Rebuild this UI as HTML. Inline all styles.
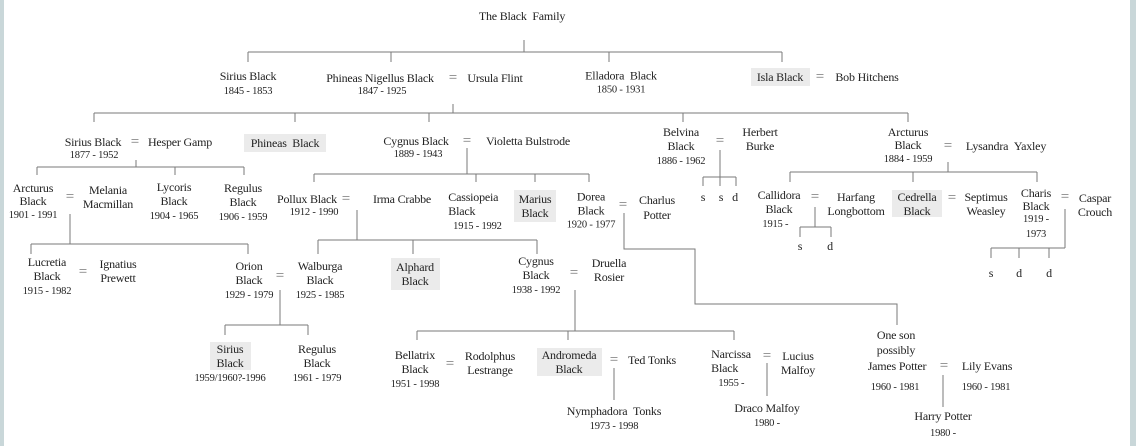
<!DOCTYPE html>
<html><head><meta charset="utf-8"><style>
html,body{margin:0;padding:0}
body{width:1136px;height:446px;position:relative;background:#fff;overflow:hidden;font-family:"Liberation Serif",serif;color:#222}
.bl{position:absolute;left:0;top:0;width:4px;height:446px;background:#c9d7d9}
.br{position:absolute;right:0;top:0;width:6px;height:446px;background:#c9d7d9}
.n{position:absolute;transform:translate(-50%,-50%);text-align:center;white-space:nowrap;line-height:14px;font-size:12px;letter-spacing:-0.2px}
.d{font-size:10.5px;letter-spacing:-0.2px}
.e{position:absolute;transform:translate(-50%,-50%);font-size:15px;color:#777;line-height:14px}
.bx{position:absolute;background:#ebebeb}
svg{position:absolute;left:0;top:0}
</style></head><body>
<div class="bl"></div><div class="br"></div>
<div class="bx" style="left:751px;top:68px;width:59px;height:18px"></div>
<div class="bx" style="left:244px;top:134px;width:82px;height:18px"></div>
<div class="bx" style="left:514px;top:190px;width:42px;height:32px"></div>
<div class="bx" style="left:892px;top:190px;width:50px;height:27px"></div>
<div class="bx" style="left:391px;top:258px;width:49px;height:32px"></div>
<div class="bx" style="left:210px;top:342px;width:41px;height:28px"></div>
<div class="bx" style="left:537px;top:348px;width:65px;height:28px"></div>
<svg width="1136" height="446" fill="none" stroke="#7a7a7a" stroke-width="1">
<path d="M524 40V52M248 52H782M248 52V62M391 52V62M609 52V62M782 52V62"/>
<path d="M453 104V113M94 113H908M94 113V122M295 113V122M429 113V122M683 113V122M908 113V122"/>
<path d="M136 160V167M37 167H244M37 167V175M175 167V175M244 167V175"/>
<path d="M467 148V174M314 174H589M314 174V182M476 174V182M535 174V182M589 174V182"/>
<path d="M720 150V177M703 177H736M703 177V186M720 177V186M736 177V186"/>
<path d="M948 162V172M790 172H1037M790 172V182M913 172V182M1037 172V182"/>
<path d="M815 207V227M800 227H831M800 227V237M831 227V237"/>
<path d="M1065 209V248M991 248H1065M991 248V258M1019 248V258M1049 248V258"/>
<path d="M624 213V249H695V304H897V325"/>
<path d="M70 214V244M31 244H248M31 244V254M248 244V254"/>
<path d="M357 210V240M318 240H537M318 240V254M413 240V254M537 240V254"/>
<path d="M280 290V325M225 325H308M225 325V335M308 325V335"/>
<path d="M575 290V331M417 331H734M417 331V340M568 331V340M734 331V340"/>
<path d="M614 368V400M767 363V396M943 375V407"/>
</svg>
<div class="n" style="left:522px;top:16px">The Black &nbsp;Family</div>
<div class="n" style="left:248px;top:84px">Sirius Black<br><span class="d">1845 - 1853</span></div>
<div class="n" style="left:380px;top:78px">Phineas Nigellus Black</div><div class="e" style="left:453px;top:78px">=</div><div class="n" style="left:495px;top:78px">Ursula Flint</div><div class="n d" style="left:382px;top:92px">1847 - 1925</div>
<div class="n" style="left:621px;top:83px;line-height:13px">Elladora &nbsp;Black<br><span class="d">1850 - 1931</span></div>
<div class="n" style="left:780px;top:77px">Isla Black</div><div class="e" style="left:820px;top:77px">=</div><div class="n" style="left:867px;top:77px">Bob Hitchens</div>
<div class="n" style="left:93px;top:142px">Sirius Black</div><div class="e" style="left:135px;top:142px">=</div><div class="n" style="left:180px;top:142px">Hesper Gamp</div><div class="n d" style="left:94px;top:156px">1877 - 1952</div>
<div class="n" style="left:285px;top:143px">Phineas &nbsp;Black</div>
<div class="n" style="left:416px;top:141px">Cygnus Black</div><div class="e" style="left:467px;top:141px">=</div><div class="n" style="left:528px;top:141px">Violetta Bulstrode</div><div class="n d" style="left:418px;top:155px">1889 - 1943</div>
<div class="n" style="left:681px;top:147px">Belvina<br>Black<br><span class="d">1886 - 1962</span></div><div class="e" style="left:720px;top:141px">=</div><div class="n" style="left:760px;top:139px">Herbert<br>Burke</div>
<div class="n" style="left:908px;top:146px;line-height:13px">Arcturus<br>Black<br><span class="d">1884 - 1959</span></div><div class="e" style="left:948px;top:146px">=</div><div class="n" style="left:1006px;top:146px">Lysandra &nbsp;Yaxley</div>
<div class="n" style="left:33px;top:202px;line-height:13px">Arcturus<br>Black<br><span class="d">1901 - 1991</span></div><div class="e" style="left:70px;top:197px">=</div><div class="n" style="left:108px;top:197px">Melania<br>Macmillan</div>
<div class="n" style="left:174px;top:202px">Lycoris<br>Black<br><span class="d">1904 - 1965</span></div>
<div class="n" style="left:243px;top:203px">Regulus<br>Black<br><span class="d">1906 - 1959</span></div>
<div class="n" style="left:307px;top:199px">Pollux Black</div><div class="e" style="left:346px;top:199px">=</div><div class="n" style="left:402px;top:199px">Irma Crabbe</div><div class="n d" style="left:314px;top:213px">1912 - 1990</div>
<div class="n" style="left:475px;top:212px;text-align:left">Cassiopeia<br>Black<br><span class="d">&nbsp; 1915 - 1992</span></div>
<div class="n" style="left:535px;top:206px">Marius<br>Black</div>
<div class="n" style="left:591px;top:211px;line-height:13.5px">Dorea<br>Black<br><span class="d">1920 - 1977</span></div><div class="e" style="left:623px;top:205px">=</div><div class="n" style="left:657px;top:208px;line-height:15px">Charlus<br>Potter</div>
<div class="n" style="left:703px;top:197px">s</div><div class="n" style="left:721px;top:197px">s</div><div class="n" style="left:735px;top:197px">d</div>
<div class="n" style="left:779px;top:210px">Callidora<br>Black<br><span class="d">1915 -&nbsp;&nbsp;&nbsp;</span></div><div class="e" style="left:815px;top:197px">=</div><div class="n" style="left:856px;top:204px">Harfang<br>Longbottom</div>
<div class="n" style="left:800px;top:246px">s</div><div class="n" style="left:830px;top:246px">d</div>
<div class="n" style="left:917px;top:204px">Cedrella<br>Black</div><div class="e" style="left:952px;top:198px">=</div><div class="n" style="left:986px;top:204px">Septimus<br>Weasley</div>
<div class="n" style="left:1036px;top:214px;line-height:12.5px">Charis<br>Black<br><span class="d">1919 -<br>1973</span></div><div class="e" style="left:1065px;top:197px">=</div><div class="n" style="left:1095px;top:205px">Caspar<br>Crouch</div>
<div class="n" style="left:991px;top:273px">s</div><div class="n" style="left:1019px;top:273px">d</div><div class="n" style="left:1049px;top:273px">d</div>
<div class="n" style="left:47px;top:277px">Lucretia<br>Black<br><span class="d">1915 - 1982</span></div><div class="e" style="left:83px;top:272px">=</div><div class="n" style="left:118px;top:271px">Ignatius<br>Prewett</div>
<div class="n" style="left:249px;top:281px">Orion<br>Black<br><span class="d">1929 - 1979</span></div><div class="e" style="left:280px;top:276px">=</div><div class="n" style="left:320px;top:281px">Walburga<br>Black<br><span class="d">1925 - 1985</span></div>
<div class="n" style="left:415px;top:274px">Alphard<br>Black</div>
<div class="n" style="left:536px;top:276px">Cygnus<br>Black<br><span class="d">1938 - 1992</span></div><div class="e" style="left:574px;top:273px">=</div><div class="n" style="left:609px;top:270px">Druella<br>Rosier</div>
<div class="n" style="left:230px;top:356px">Sirius<br>Black</div><div class="n d" style="left:230px;top:379px">1959/1960?-1996</div>
<div class="n" style="left:317px;top:364px">Regulus<br>Black<br><span class="d">1961 - 1979</span></div>
<div class="n" style="left:415px;top:370px">Bellatrix<br>Black<br><span class="d">1951 - 1998</span></div><div class="e" style="left:450px;top:364px">=</div><div class="n" style="left:490px;top:363px">Rodolphus<br>Lestrange</div>
<div class="n" style="left:569px;top:362px">Andromeda<br>Black</div><div class="e" style="left:614px;top:360px">=</div><div class="n" style="left:652px;top:360px">Ted Tonks</div>
<div class="n" style="left:614px;top:419px">Nymphadora &nbsp;Tonks<br><span class="d">1973 - 1998</span></div>
<div class="n" style="left:731px;top:369px;text-align:left">Narcissa<br>Black<br><span class="d">&nbsp;&nbsp;&nbsp;1955 -</span></div><div class="e" style="left:767px;top:356px">=</div><div class="n" style="left:798px;top:363px">Lucius<br>Malfoy</div>
<div class="n" style="left:767px;top:416px">Draco Malfoy<br><span class="d">1980 -</span></div>
<div class="n" style="left:896px;top:343px;line-height:15px">One son<br>possibly</div>
<div class="n" style="left:897px;top:366px">James Potter</div><div class="e" style="left:944px;top:366px">=</div><div class="n" style="left:987px;top:366px">Lily Evans</div>
<div class="n d" style="left:895px;top:388px">1960 - 1981</div><div class="n d" style="left:986px;top:388px">1960 - 1981</div>
<div class="n" style="left:943px;top:425px;line-height:16px">Harry Potter<br><span class="d">1980 -</span></div>
</body></html>
